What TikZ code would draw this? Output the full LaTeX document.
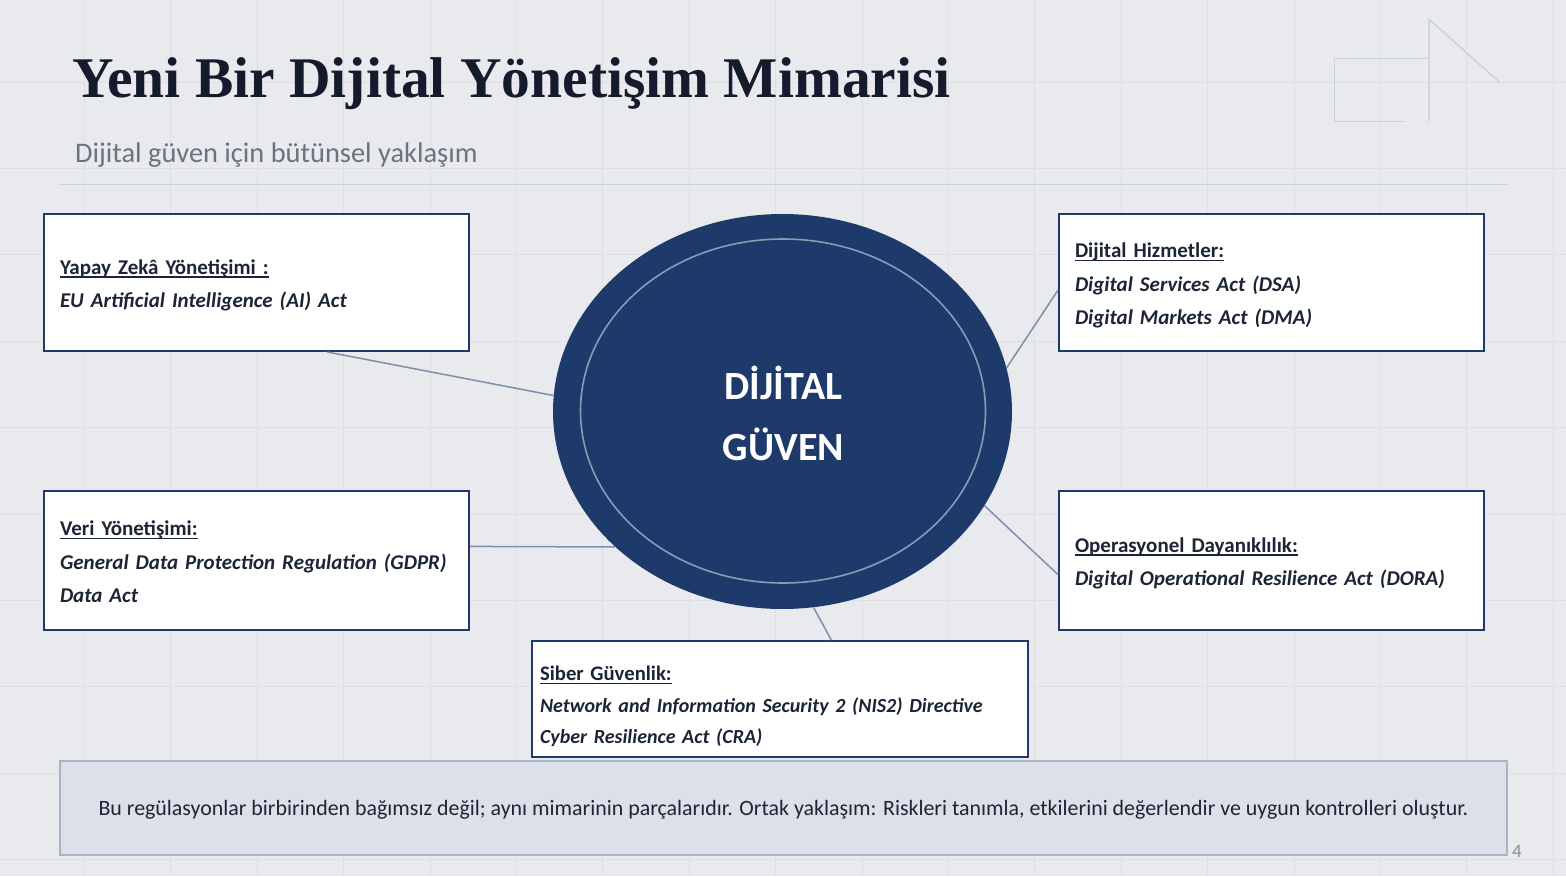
\documentclass[tikz,border=0pt]{standalone}
\usepackage{fontspec}
\setmainfont{Carlito}
\newfontfamily\titlefont{Liberation Serif}
\usetikzlibrary{shapes.geometric,calc}
\definecolor{bg}{HTML}{E9EAEE}
\definecolor{gridc}{HTML}{DDDFE4}
\definecolor{navy}{HTML}{1E3A6B}
\definecolor{ink}{HTML}{1C2535}
\definecolor{titleink}{HTML}{141B2D}
\definecolor{subgray}{HTML}{6B7280}
\definecolor{deco}{HTML}{CDD2DA}
\definecolor{linkc}{HTML}{7D8FAA}
\definecolor{ringc}{HTML}{8C9BB4}
\definecolor{notefill}{HTML}{DDE0E8}
\definecolor{noteline}{HTML}{AAB2C4}
\newcommand\headul[1]{\setbox0\hbox{\textbf{#1}}\rlap{\rule[-3.5pt]{\wd0}{1.5pt}}\box0}
\newcommand\lawitem[1]{\mbox{\textbf{\textit{#1}}}}
\newcommand\topstrut{\rule{0pt}{27.5pt}}
\hyphenpenalty=10000
\exhyphenpenalty=10000
\begin{document}
\begin{tikzpicture}[x=1pt,y=-1pt,
  lawbox/.style={draw=navy, line width=2pt, fill=white, anchor=north west, align=left,
    inner xsep=16pt, inner ysep=0pt, font=\fontsize{21}{33.5}\selectfont, text=ink},
  linkline/.style={draw=linkc, line width=1.5pt},
  gridline/.style={draw=gridc, line width=1pt},
  decoline/.style={draw=deco, line width=1.5pt},
]
\fill[bg] (0,0) rectangle (1566,876);
\useasboundingbox (0,0) rectangle (1566,876);
% grid
\foreach \i in {0,...,17} \draw[gridline] ({84.5+86.4*\i},0) -- ({84.5+86.4*\i},876);
\foreach \j in {0,...,9} \draw[gridline] (0,{82+86.4*\j}) -- (1566,{82+86.4*\j});
% decoration top right
\draw[decoline] (1405,121.3) -- (1334.7,121.3) -- (1334.7,58.7) -- (1429,58.7);
\draw[decoline] (1429,121.3) -- (1429,19.3) -- (1499.3,82);
% title
\node[anchor=base west, font=\titlefont\bfseries\fontsize{57.5}{60}\selectfont, text=titleink, inner sep=0] (title) at (72,97) {Yeni Bir Dijital Yönetişim Mimarisi};
\node[anchor=base west, font=\fontsize{28.4}{30}\selectfont, text=subgray, inner sep=0] (subtitle) at (75,162) {Dijital güven için bütünsel yaklaşım};
\draw[decoline, line width=1.2pt] (59,184.5) -- (1507.5,184.5);
% core
\node[ellipse, fill=navy, minimum width=459pt, minimum height=395pt, inner sep=0] (core) at (782.5,411.5) {};
\node[ellipse, draw=ringc, line width=1.6pt, minimum width=405pt, minimum height=344pt, inner sep=0] (ring) at (783,411) {};
\node[text=white, font=\bfseries\fontsize{40}{61}\selectfont, align=center] (corelabel) at (783.5,413.5) {DİJİTAL\\GÜVEN};
% boxes
\node[lawbox, text width=393pt, minimum height=137pt] (ai) at (43,213)
  {\topstrut\headul{Yapay Zekâ Yönetişimi :}\\\lawitem{EU Artificial Intelligence (AI) Act}\strut};
\node[lawbox, text width=393pt, minimum height=137pt] (dh) at (1058,213)
  {\topstrut\headul{Dijital Hizmetler:}\\\lawitem{Digital Services Act (DSA)}\\\lawitem{Digital Markets Act (DMA)}\strut};
\node[lawbox, text width=393pt, minimum height=139pt] (veri) at (43,490)
  {\topstrut\headul{Veri Yönetişimi:}\\\lawitem{General Data Protection Regulation (GDPR)}\\\lawitem{Data Act}\strut};
\node[lawbox, text width=393pt, minimum height=139pt] (ops) at (1058,490)
  {\topstrut\headul{Operasyonel Dayanıklılık:}\\\lawitem{Digital Operational Resilience Act (DORA)}\strut};
\node[lawbox, inner xsep=8pt, text width=480pt, minimum height=116pt, font=\fontsize{20}{31.5}\selectfont] (siber) at (531,640)
  {\rule{0pt}{36.4pt}{\fontsize{20.7}{31.5}\selectfont\headul{Siber Güvenlik:}}\\\lawitem{Network and Information Security 2 (NIS2) Directive}\\\lawitem{Cyber Resilience Act (CRA)}\strut};
% connectors
\draw[linkline] ($(ai.south west)!0.666!(ai.south east)$) -- (core.176);
\draw[linkline] ($(dh.north west)!0.555!(dh.south west)$) -- (core.11);
\draw[linkline] ($(veri.north east)!0.40!(veri.south east)$) -- (core.219);
\draw[linkline] ($(ops.north west)!0.60!(ops.south west)$) -- (core.335);
\draw[linkline] ($(siber.north west)!0.603!(siber.north east)$) -- (core.279);
% note
\node[draw=noteline, fill=notefill, line width=1.5pt, minimum width=1447pt, minimum height=94pt, inner sep=0,
  text height=14pt, text depth=0pt,
  font=\fontsize{21.9}{24}\selectfont, text=ink] (note) at (783.5,808)
  {Bu regülasyonlar birbirinden bağımsız değil; aynı mimarinin parçalarıdır. Ortak yaklaşım: Riskleri tanımla, etkilerini değerlendir ve uygun kontrolleri oluştur.};
\node[font=\fontsize{19}{20}\selectfont, text=subgray!80, inner sep=0] (pageno) at (1517,851) {4};
\end{tikzpicture}
\end{document}
